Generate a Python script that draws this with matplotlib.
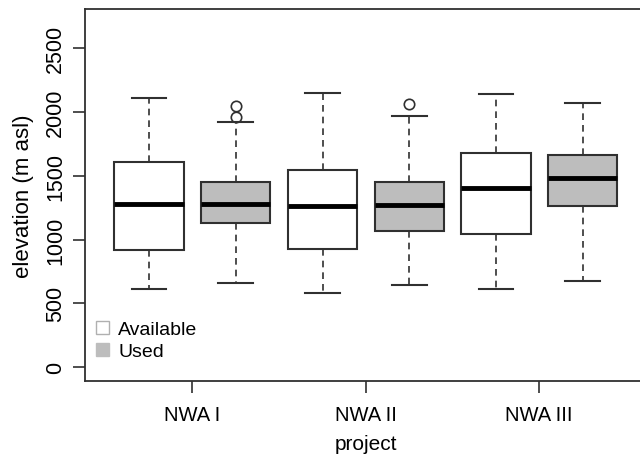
import matplotlib
matplotlib.use("Agg")
import matplotlib.pyplot as plt
from matplotlib.patches import Patch

plt.rcParams['font.family'] = ['Liberation Sans', 'DejaVu Sans']

projects = ["NWA I", "NWA II", "NWA III"]
groups = ["Available", "Used"]
# per box in order: NWA I Avail, NWA I Used, NWA II Avail, NWA II Used, NWA III Avail, NWA III Used
whislo = [614, 663, 585, 645, 611, 676]
q1 = [922, 1133, 925, 1071, 1047, 1262]
med = [1282, 1280, 1264, 1274, 1405, 1484]
q3 = [1611, 1450, 1544, 1455, 1679, 1666]
whishi = [2108, 1925, 2147, 1969, 2139, 2071]
fliers = [[], [1959, 2048], [], [2066], [], []]
fills = ["white", "#bdbdbd"]

edge = "#303030"
fig = plt.figure(figsize=(6.4, 4.6), dpi=100)
ax = fig.add_axes([85/640, 78/460, 561.7/640, 372/460])

stats = []
for i in range(6):
    stats.append(dict(whislo=whislo[i], q1=q1[i], med=med[i], q3=q3[i],
                      whishi=whishi[i], fliers=fliers[i]))
positions = list(range(1, 7))
bp = ax.bxp(stats, positions=positions, widths=0.8, patch_artist=True,
            showfliers=True,
            boxprops=dict(edgecolor=edge, linewidth=1.5),
            medianprops=dict(color="black", linewidth=3.5, solid_capstyle="butt"),
            whiskerprops=dict(color=edge, linewidth=1.2, linestyle=(0, (4, 3))),
            capprops=dict(color=edge, linewidth=1.5),
            capwidths=0.4,
            flierprops=dict(marker="o", markerfacecolor="none", markeredgecolor=edge,
                            markersize=7.5, markeredgewidth=1.2))
for i, b in enumerate(bp["boxes"]):
    b.set_facecolor(fills[i % 2])

ax.set_xlim(0.26, 6.74)
ax.set_ylim(-108, 2808)
ax.set_xticks([1.5, 3.5, 5.5])
ax.set_xticklabels(projects)
ax.set_yticks([0, 500, 1000, 1500, 2000, 2500])
ax.set_yticklabels(["0", "500", "1000", "1500", "2000", "2500"], rotation=90, va="center")
ax.tick_params(axis="both", length=8.5, width=1.2, color=edge)
ax.tick_params(axis="x", pad=9, labelsize=14.5)
ax.tick_params(axis="y", pad=5, labelsize=15.5)
for s in ax.spines.values():
    s.set_color(edge)
    s.set_linewidth(1.3)

ax.set_xlabel("project", fontsize=15, labelpad=7)
ax.set_ylabel("elevation (m asl)", fontsize=16, labelpad=8)

handles = [Patch(facecolor="white", edgecolor="#b0b0b0", linewidth=1.0),
           Patch(facecolor="#bdbdbd", edgecolor="#bdbdbd", linewidth=1.0)]
ax.legend(handles, groups, loc="upper left", bbox_to_anchor=(96/640, 1 - 322/460),
          bbox_transform=fig.transFigure, frameon=False, fontsize=14,
          handlelength=0.65, handleheight=0.65, handletextpad=0.5,
          labelspacing=0.25, borderpad=0, borderaxespad=0)

fig.savefig("out.png", dpi=100)
